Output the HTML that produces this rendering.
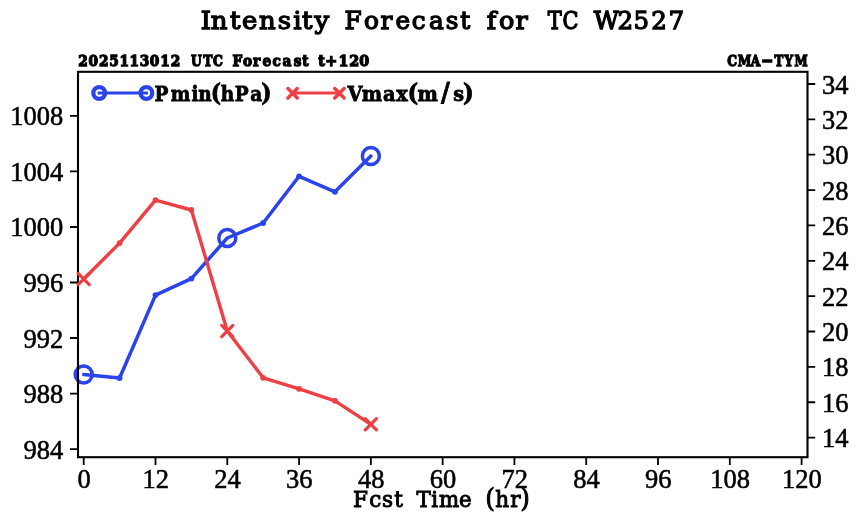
<!DOCTYPE html>
<html><head><meta charset="utf-8"><title>Intensity Forecast for TC W2527</title>
<style>html,body{margin:0;padding:0;background:#fff;width:860px;height:525px;overflow:hidden}svg{display:block}</style>
</head><body>
<svg width="860" height="525" viewBox="0 0 860 525">
<rect x="0" y="0" width="860" height="525" fill="#fff"/>
<polyline points="83.70,374.40 119.59,378.00 155.49,295.10 191.38,278.60 227.28,238.00 263.18,223.00 299.07,176.30 334.96,191.80 370.86,156.00" fill="none" stroke="#2a44ea" stroke-width="3.5" stroke-linejoin="round" stroke-linecap="round"/>
<circle cx="83.70" cy="374.40" r="8.5" fill="none" stroke="#2a44ea" stroke-width="3.5"/>
<circle cx="119.59" cy="378.00" r="2.9" fill="#2a44ea"/>
<circle cx="155.49" cy="295.10" r="2.9" fill="#2a44ea"/>
<circle cx="191.38" cy="278.60" r="2.9" fill="#2a44ea"/>
<circle cx="227.28" cy="238.00" r="8.5" fill="none" stroke="#2a44ea" stroke-width="3.5"/>
<circle cx="263.18" cy="223.00" r="2.9" fill="#2a44ea"/>
<circle cx="299.07" cy="176.30" r="2.9" fill="#2a44ea"/>
<circle cx="334.96" cy="191.80" r="2.9" fill="#2a44ea"/>
<circle cx="370.86" cy="156.00" r="8.5" fill="none" stroke="#2a44ea" stroke-width="3.5"/>
<rect x="78.0" y="71.8" width="729.5" height="385.40" fill="none" stroke="#000" stroke-width="2.1"/>
<path d="M70 449.05H78.0 M70 393.53H78.0 M70 338.01H78.0 M70 282.50H78.0 M70 226.98H78.0 M70 171.47H78.0 M70 115.95H78.0 M807.5 437.60H815.2 M807.5 402.24H815.2 M807.5 366.88H815.2 M807.5 331.52H815.2 M807.5 296.16H815.2 M807.5 260.80H815.2 M807.5 225.44H815.2 M807.5 190.08H815.2 M807.5 154.72H815.2 M807.5 119.36H815.2 M807.5 84.00H815.2 M83.70 457.2V465 M155.49 457.2V465 M227.28 457.2V465 M299.07 457.2V465 M370.86 457.2V465 M442.65 457.2V465 M514.44 457.2V465 M586.23 457.2V465 M658.02 457.2V465 M729.81 457.2V465 M801.60 457.2V465" stroke="#000" stroke-width="1.8" fill="none"/>
<polyline points="83.70,279.00 119.59,243.10 155.49,200.10 191.38,210.00 227.28,331.00 263.18,377.80 299.07,388.80 334.96,400.80 370.86,424.30" fill="none" stroke="#ee3f44" stroke-width="3.4" stroke-linejoin="round" stroke-linecap="round"/>
<path d="M78.10 273.40L89.30 284.60M78.10 284.60L89.30 273.40" stroke="#ee3f44" stroke-width="3.2" stroke-linecap="round" fill="none"/>
<circle cx="119.59" cy="243.10" r="2.9" fill="#ee3f44"/>
<circle cx="155.49" cy="200.10" r="2.9" fill="#ee3f44"/>
<circle cx="191.38" cy="210.00" r="2.9" fill="#ee3f44"/>
<path d="M221.68 325.40L232.88 336.60M221.68 336.60L232.88 325.40" stroke="#ee3f44" stroke-width="3.2" stroke-linecap="round" fill="none"/>
<circle cx="263.18" cy="377.80" r="2.9" fill="#ee3f44"/>
<circle cx="299.07" cy="388.80" r="2.9" fill="#ee3f44"/>
<circle cx="334.96" cy="400.80" r="2.9" fill="#ee3f44"/>
<path d="M365.26 418.70L376.46 429.90M365.26 429.90L376.46 418.70" stroke="#ee3f44" stroke-width="3.2" stroke-linecap="round" fill="none"/>
<line x1="97.6" y1="93" x2="148.0" y2="93" stroke="#2a44ea" stroke-width="3.2"/>
<circle cx="99.2" cy="93" r="5.85" fill="none" stroke="#2a44ea" stroke-width="4.3"/>
<circle cx="146.4" cy="93" r="5.85" fill="none" stroke="#2a44ea" stroke-width="4.3"/>
<line x1="292.6" y1="93" x2="339.4" y2="93" stroke="#ee3f44" stroke-width="3.2"/>
<path d="M287.90 88.50L297.30 97.90M287.90 97.90L297.30 88.50" stroke="#ee3f44" stroke-width="3.5" stroke-linecap="round" fill="none"/>
<path d="M334.70 88.50L344.10 97.90M334.70 97.90L344.10 88.50" stroke="#ee3f44" stroke-width="3.5" stroke-linecap="round" fill="none"/>
<text transform="scale(1.0499,1)" x="191.10 200.80 218.96 230.59 246.66 264.51 279.33 287.73 299.56" y="29.35" font-family="'DejaVu Serif', serif" font-weight="normal" font-size="24.7" stroke="#000" stroke-width="1.3">Intensity</text>
<text transform="scale(1.0024,1)" x="343.73 363.24 379.50 394.44 410.80 428.09 444.75 459.24" y="29.35" font-family="'DejaVu Serif', serif" font-weight="normal" font-size="24.7" stroke="#000" stroke-width="1.3">Forecast</text>
<text transform="scale(1.0336,1)" x="470.88 482.87 498.77" y="29.35" font-family="'DejaVu Serif', serif" font-weight="normal" font-size="24.7" stroke="#000" stroke-width="1.3">for</text>
<text transform="scale(0.8457,1)" x="647.59 665.26" y="29.35" font-family="'DejaVu Serif', serif" font-weight="normal" font-size="24.7" stroke="#000" stroke-width="1.3">TC</text>
<text transform="scale(0.9937,1)" x="597.46 621.30 637.63 655.27 672.63" y="29.35" font-family="'DejaVu Serif', serif" font-weight="normal" font-size="24.7" stroke="#000" stroke-width="1.3">W2527</text>
<text transform="scale(0.8798,1)" x="88.86 100.67 112.45 124.26 135.71 147.31 158.87 170.35 182.03 194.11" y="66.3" font-family="'DejaVu Serif', serif" font-weight="bold" font-size="15.6" stroke="#000" stroke-width="1.3">2025113012</text>
<text transform="scale(0.7924,1)" x="240.98 256.36 268.80" y="66.3" font-family="'DejaVu Serif', serif" font-weight="bold" font-size="15.6" stroke="#000" stroke-width="1.3">UTC</text>
<text transform="scale(0.8790,1)" x="264.55 276.44 287.77 298.59 310.16 321.49 334.14 343.81" y="66.3" font-family="'DejaVu Serif', serif" font-weight="bold" font-size="15.6" stroke="#000" stroke-width="1.3">Forecast</text>
<text transform="scale(0.9190,1)" x="346.21 353.99 368.43 379.91 390.83" y="66.3" font-family="'DejaVu Serif', serif" font-weight="bold" font-size="15.6" stroke="#000" stroke-width="1.3">t+120</text>
<text transform="scale(0.7862,1)" x="924.99 938.33 954.88" y="66.2" font-family="'DejaVu Serif', serif" font-weight="bold" font-size="15.6" stroke="#000" stroke-width="1.3">CMA</text>
<text transform="scale(1.6923,1)" x="450.15" y="65.3" font-family="'DejaVu Serif', serif" font-weight="bold" font-size="15.6" stroke="#000" stroke-width="1.3">-</text>
<text transform="scale(0.7628,1)" x="1015.44 1028.60 1041.66" y="66.2" font-family="'DejaVu Serif', serif" font-weight="bold" font-size="15.6" stroke="#000" stroke-width="1.3">TYM</text>
<text transform="scale(0.8973,1)" x="172.16 190.39 213.44 220.96 234.92 246.03 261.59 278.77 291.15" y="100.75" font-family="'DejaVu Serif', serif" font-weight="bold" font-size="20.6" stroke="#000" stroke-width="0.8">Pmin<tspan font-size="24.31">(</tspan>hPa<tspan font-size="24.31">)</tspan></text>
<text transform="scale(0.9363,1)" x="371.05 386.49 408.98 423.17 435.24 445.93 470.99 484.06 494.45" y="100.75" font-family="'DejaVu Serif', serif" font-weight="bold" font-size="20.6" stroke="#000" stroke-width="0.8">Vmax<tspan font-size="24.31">(</tspan>m<tspan font-size="25.75">/</tspan>s<tspan font-size="24.31">)</tspan></text>
<text transform="scale(0.9543,1)" x="369.95 386.98 400.32 413.02" y="507.4" font-family="'DejaVu Serif', serif" font-weight="normal" font-size="22.6" stroke="#000" stroke-width="0.95">Fcst</text>
<text transform="scale(0.9422,1)" x="442.06 457.77 465.87 487.15" y="507.4" font-family="'DejaVu Serif', serif" font-weight="normal" font-size="22.6" stroke="#000" stroke-width="0.95">Time</text>
<text transform="scale(0.9540,1)" x="508.53 519.02 534.77 545.24" y="507.4" font-family="'DejaVu Serif', serif" font-weight="normal" font-size="22.6" stroke="#000" stroke-width="0.95"><tspan font-size="25.99">(</tspan>hr<tspan font-size="25.99">)</tspan></text>
<text x="63.3" y="458.55" text-anchor="end" font-family="'Liberation Serif', serif" font-size="26.5" stroke="#000" stroke-width="0.55">984</text>
<text x="63.3" y="403.03" text-anchor="end" font-family="'Liberation Serif', serif" font-size="26.5" stroke="#000" stroke-width="0.55">988</text>
<text x="63.3" y="347.51" text-anchor="end" font-family="'Liberation Serif', serif" font-size="26.5" stroke="#000" stroke-width="0.55">992</text>
<text x="63.3" y="292.00" text-anchor="end" font-family="'Liberation Serif', serif" font-size="26.5" stroke="#000" stroke-width="0.55">996</text>
<text x="63.3" y="236.48" text-anchor="end" font-family="'Liberation Serif', serif" font-size="26.5" stroke="#000" stroke-width="0.55">1000</text>
<text x="63.3" y="180.97" text-anchor="end" font-family="'Liberation Serif', serif" font-size="26.5" stroke="#000" stroke-width="0.55">1004</text>
<text x="63.3" y="125.45" text-anchor="end" font-family="'Liberation Serif', serif" font-size="26.5" stroke="#000" stroke-width="0.55">1008</text>
<text x="822.0" y="447.10" font-family="'Liberation Serif', serif" font-size="26.5" stroke="#000" stroke-width="0.55">14</text>
<text x="822.0" y="411.74" font-family="'Liberation Serif', serif" font-size="26.5" stroke="#000" stroke-width="0.55">16</text>
<text x="822.0" y="376.38" font-family="'Liberation Serif', serif" font-size="26.5" stroke="#000" stroke-width="0.55">18</text>
<text x="822.0" y="341.02" font-family="'Liberation Serif', serif" font-size="26.5" stroke="#000" stroke-width="0.55">20</text>
<text x="822.0" y="305.66" font-family="'Liberation Serif', serif" font-size="26.5" stroke="#000" stroke-width="0.55">22</text>
<text x="822.0" y="270.30" font-family="'Liberation Serif', serif" font-size="26.5" stroke="#000" stroke-width="0.55">24</text>
<text x="822.0" y="234.94" font-family="'Liberation Serif', serif" font-size="26.5" stroke="#000" stroke-width="0.55">26</text>
<text x="822.0" y="199.58" font-family="'Liberation Serif', serif" font-size="26.5" stroke="#000" stroke-width="0.55">28</text>
<text x="822.0" y="164.22" font-family="'Liberation Serif', serif" font-size="26.5" stroke="#000" stroke-width="0.55">30</text>
<text x="822.0" y="128.86" font-family="'Liberation Serif', serif" font-size="26.5" stroke="#000" stroke-width="0.55">32</text>
<text x="822.0" y="93.50" font-family="'Liberation Serif', serif" font-size="26.5" stroke="#000" stroke-width="0.55">34</text>
<text x="84.00" y="487.6" text-anchor="middle" font-family="'Liberation Serif', serif" font-size="26.5" stroke="#000" stroke-width="0.55">0</text>
<text x="155.79" y="487.6" text-anchor="middle" font-family="'Liberation Serif', serif" font-size="26.5" stroke="#000" stroke-width="0.55">12</text>
<text x="227.58" y="487.6" text-anchor="middle" font-family="'Liberation Serif', serif" font-size="26.5" stroke="#000" stroke-width="0.55">24</text>
<text x="299.37" y="487.6" text-anchor="middle" font-family="'Liberation Serif', serif" font-size="26.5" stroke="#000" stroke-width="0.55">36</text>
<text x="371.16" y="487.6" text-anchor="middle" font-family="'Liberation Serif', serif" font-size="26.5" stroke="#000" stroke-width="0.55">48</text>
<text x="442.95" y="487.6" text-anchor="middle" font-family="'Liberation Serif', serif" font-size="26.5" stroke="#000" stroke-width="0.55">60</text>
<text x="514.74" y="487.6" text-anchor="middle" font-family="'Liberation Serif', serif" font-size="26.5" stroke="#000" stroke-width="0.55">72</text>
<text x="586.53" y="487.6" text-anchor="middle" font-family="'Liberation Serif', serif" font-size="26.5" stroke="#000" stroke-width="0.55">84</text>
<text x="658.32" y="487.6" text-anchor="middle" font-family="'Liberation Serif', serif" font-size="26.5" stroke="#000" stroke-width="0.55">96</text>
<text x="730.11" y="487.6" text-anchor="middle" font-family="'Liberation Serif', serif" font-size="26.5" stroke="#000" stroke-width="0.55">108</text>
<text x="801.90" y="487.6" text-anchor="middle" font-family="'Liberation Serif', serif" font-size="26.5" stroke="#000" stroke-width="0.55">120</text>
</svg>
</body></html>
